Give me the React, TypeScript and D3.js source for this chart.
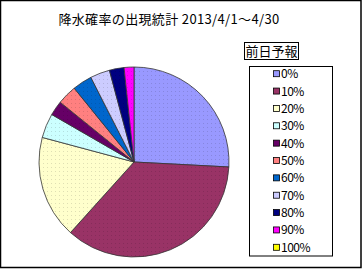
import React from "react";
import * as d3 from "d3";

const categories = ["0%", "10%", "20%", "30%", "40%", "50%", "60%", "70%", "80%", "90%", "100%"];
const counts = [31, 43, 21, 5, 3, 4, 4, 4, 3, 2, 0];
const colors = ["#9999FF", "#993366", "#FFFFCC", "#CCFFFF", "#660066", "#FF8080", "#0066CC", "#CCCCFF", "#000080", "#FF00FF", "#FFFF00"];
const titleText = "降水確率の出現統計 2013/4/1～4/30";
const legendTitle = "前日予報";

const W = 362;
const H = 269;

export default function App() {
  const cx = 134;
  const cy = 162;
  const r = 95;
  const pie = d3.pie<number>().sort(null).value((d) => d)(counts);
  const arc = d3.arc<d3.PieArcDatum<number>>().innerRadius(0).outerRadius(r);
  const legendY = d3.scaleLinear().domain([0, categories.length - 1]).range([73.7, 247.3]);
  const font = "'Noto Sans CJK JP', 'DejaVu Sans', sans-serif";

  return (
    <svg width={W} height={H} style={{ position: "absolute", left: 0, top: 0, background: "#fff" }}>
      <defs>
        {colors.map((c, i) => (
          <pattern key={i} id={`p${i}`} width={4} height={4} patternUnits="userSpaceOnUse">
            <rect width={4} height={4} fill={c} />
            <rect x={1} y={1} width={1} height={1} fill={d3.color(c)!.darker(0.8).toString()} opacity={0.5} />
          </pattern>
        ))}
      </defs>
      <rect x={0} y={0} width={W} height={H} fill="#fff" />
      <rect x={0.5} y={0.5} width={360.5} height={267} fill="none" stroke="#000" strokeWidth={1.5} />
      <text x={169} y={24} textAnchor="middle" fontFamily={font} fontSize={13} fill="#000" letterSpacing={0.35}>
        {titleText}
      </text>
      <g transform={`translate(${cx},${cy})`}>
        {pie.map((p, i) =>
          p.value > 0 ? (
            <path key={i} d={arc(p) || ""} fill={`url(#p${i})`} stroke="#333" strokeWidth={0.8} />
          ) : null
        )}
      </g>
      <rect x={244.5} y={42.5} width={54} height={17} fill="#fff" stroke="#000" strokeWidth={1} />
      <text x={271.5} y={56} textAnchor="middle" fontFamily={font} fontSize={13} fill="#000">
        {legendTitle}
      </text>
      <rect x={249.5} y={66.5} width={83} height={189.5} fill="#fff" stroke="#000" strokeWidth={1} />
      {categories.map((c, i) => (
        <g key={c}>
          <rect x={273.5} y={legendY(i) - 3} width={6} height={6} fill={colors[i]} stroke="#000" strokeWidth={0.8} />
          <text x={281} y={legendY(i) + 4.5} fontFamily={font} fontSize={12} fill="#000" letterSpacing={-0.5}>
            {c}
          </text>
        </g>
      ))}
    </svg>
  );
}
